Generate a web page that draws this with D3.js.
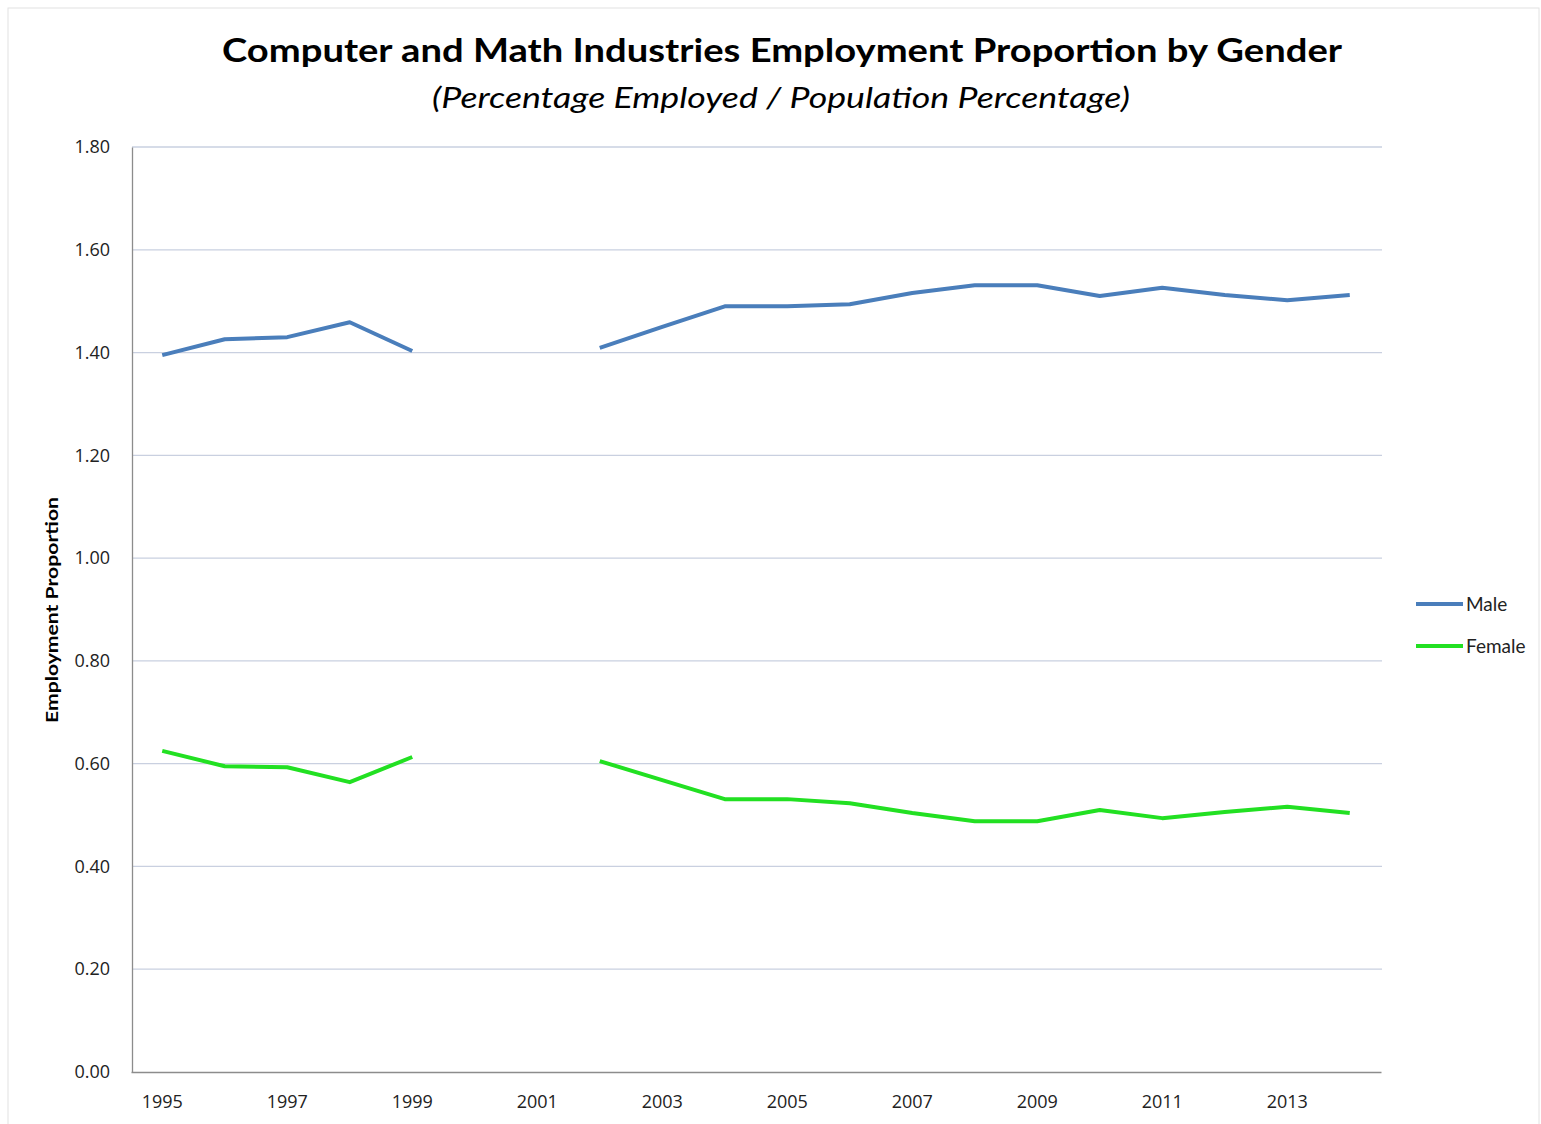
<!DOCTYPE html>
<html>
<head>
<meta charset="utf-8">
<script src="https://cdn.jsdelivr.net/npm/d3@7"></script>
<style>
  html, body { margin: 0; padding: 0; background: #fff; }
  svg { display: block; font-family: Lato, "Open Sans", sans-serif; }
</style>
</head>
<body>
<div id="chart"></div>
<script>
const YEARS = d3.range(1995, 2015).map(String);
const MALE = [1.395, 1.426, 1.430, 1.459, 1.403, null, null, 1.409, 1.450, 1.490,
              1.490, 1.494, 1.516, 1.531, 1.531, 1.510, 1.526, 1.512, 1.502, 1.512];
const FEMALE = [0.625, 0.595, 0.593, 0.564, 0.613, null, null, 0.605, 0.568, 0.531,
                0.531, 0.523, 0.504, 0.488, 0.488, 0.510, 0.494, 0.506, 0.516, 0.504];
const Y_TICKS = [0, 0.2, 0.4, 0.6, 0.8, 1.0, 1.2, 1.4, 1.6, 1.8];
const X_LABELS = ["1995", "1997", "1999", "2001", "2003", "2005", "2007", "2009", "2011", "2013"];
const SERIES = [
  { name: "Male", values: MALE, color: "#4a7ebb" },
  { name: "Female", values: FEMALE, color: "#22e022" }
];

(function () {
  const W = 1541, H = 1124;
  const M = { top: 147, right: 159, bottom: 52, left: 132 };

  const svg = d3.select("#chart").append("svg")
    .attr("width", W).attr("height", H);

  svg.append("rect")
    .attr("x", 8).attr("y", 8).attr("width", W - 10).attr("height", H - 6)
    .attr("fill", "#fff").attr("stroke", "#e2e2e2");

  const x = d3.scaleBand().domain(YEARS).range([M.left - 1, W - M.right - 1]);
  const y = d3.scaleLinear().domain([0, 1.8]).range([H - M.bottom, M.top]);
  const cx = d => x(d) + x.bandwidth() / 2;

  // gridlines
  svg.append("g")
    .selectAll("line")
    .data(Y_TICKS.filter(d => d > 0))
    .join("line")
    .attr("x1", M.left).attr("x2", W - M.right)
    .attr("y1", d => y(d)).attr("y2", d => y(d))
    .attr("stroke", "#c9d0e0").attr("stroke-width", 1.3);

  // y axis
  const yAxis = svg.append("g")
    .attr("transform", `translate(${M.left},0)`)
    .call(d3.axisLeft(y).tickValues(Y_TICKS).tickFormat(d3.format(".2f")).tickSize(0).tickPadding(22));
  yAxis.select(".domain").attr("stroke", "#8c8c8c").attr("stroke-width", 1.3);
  yAxis.selectAll("text").attr("font-size", 18).attr("fill", "#222")
    .attr("font-family", "'Open Sans', sans-serif");

  // x axis
  const xAxis = svg.append("g")
    .attr("transform", `translate(0,${H - M.bottom})`)
    .call(d3.axisBottom(x).tickValues(X_LABELS).tickSize(0).tickPadding(23).tickSizeOuter(0));
  xAxis.select(".domain").attr("stroke", "#8c8c8c").attr("stroke-width", 1.3);
  xAxis.selectAll("text").attr("font-size", 18).attr("fill", "#222")
    .attr("font-family", "'Open Sans', sans-serif");

  const line = d3.line()
    .defined(d => d.v != null)
    .x(d => cx(d.year))
    .y(d => y(d.v));

  SERIES.forEach(s => {
    svg.append("path")
      .datum(YEARS.map((year, i) => ({ year, v: s.values[i] })))
      .attr("fill", "none")
      .attr("stroke", s.color)
      .attr("stroke-width", 4)
      .attr("stroke-linejoin", "round")
      .attr("d", line);
  });

  // title
  svg.append("text")
    .attr("x", 782).attr("y", 62)
    .attr("text-anchor", "middle")
    .attr("font-size", 32).attr("font-weight", 700)
    .attr("textLength", 1120).attr("lengthAdjust", "spacingAndGlyphs")
    .text("Computer and Math Industries Employment Proportion by Gender");

  svg.append("text")
    .attr("x", 781).attr("y", 108)
    .attr("text-anchor", "middle")
    .attr("font-size", 28).attr("font-style", "italic")
    .attr("textLength", 698).attr("lengthAdjust", "spacingAndGlyphs")
    .text("(Percentage Employed / Population Percentage)");

  svg.append("text")
    .attr("transform", "translate(58,610) rotate(-90)")
    .attr("text-anchor", "middle")
    .attr("font-size", 17).attr("font-weight", 700)
    .attr("textLength", 226).attr("lengthAdjust", "spacingAndGlyphs")
    .text("Employment Proportion");

  // legend
  const legend = svg.append("g")
    .selectAll("g")
    .data(SERIES)
    .join("g")
    .attr("transform", (d, i) => `translate(1416,${604 + i * 42})`);
  legend.append("line")
    .attr("x1", 0).attr("x2", 47)
    .attr("stroke", d => d.color).attr("stroke-width", 4);
  legend.append("text")
    .attr("x", 50).attr("dy", "0.35em")
    .attr("font-size", 19).attr("fill", "#222")
    .text(d => d.name);
})();
</script>
</body>
</html>
